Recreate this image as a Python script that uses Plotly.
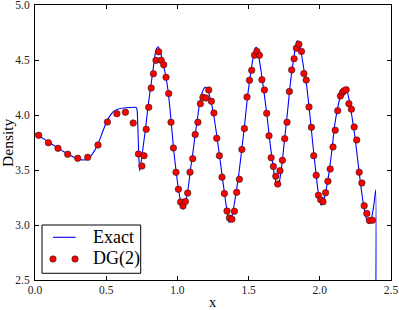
import plotly.graph_objects as go

# ---- Exact solution ----
exact_x = [0.0, 0.05, 0.1, 0.15, 0.2, 0.25, 0.29, 0.33, 0.37, 0.40, 0.44, 0.47, 0.50, 0.525, 0.55, 0.58,
           0.62, 0.66, 0.70, 0.713, 0.718, 0.722, 0.728, 0.735,
           0.7634, 0.7753, 0.7935, 0.8125, 0.8287, 0.8427, 0.8546, 0.8666,
           0.8757, 0.8897, 0.9038, 0.9178, 0.9319, 0.9459, 0.96, 0.974, 0.9881, 1.0021, 1.0162, 1.0302,
           1.0407, 1.0513, 1.0653, 1.0794, 1.0934, 1.1075, 1.1215, 1.1356, 1.1531, 1.1707, 1.1847, 1.1952,
           1.2093, 1.2339, 1.2549, 1.276, 1.2971, 1.3181, 1.3392, 1.3533, 1.3624, 1.3743, 1.3919, 1.4095,
           1.4305, 1.4516, 1.4726, 1.4937, 1.5148, 1.5323, 1.5464, 1.5569, 1.571, 1.5885, 1.6061, 1.6271,
           1.6482, 1.6658, 1.6833, 1.7023, 1.7184, 1.736, 1.7535, 1.7746, 1.7957, 1.8167, 1.8308, 1.8399,
           1.8518, 1.8659, 1.8869, 1.908, 1.9291, 1.9502, 1.9713, 1.9888, 2.0084, 2.0239, 2.0414, 2.0625,
           2.0836, 2.1046, 2.1257, 2.1468, 2.1609, 2.1749, 2.189, 2.2065, 2.224, 2.2451, 2.2662, 2.2873,
           2.3083, 2.3259, 2.3434, 2.3575, 2.3716, 2.3821, 2.3926, 2.3927]
exact_y = [3.835, 3.793, 3.75, 3.708, 3.668, 3.633, 3.606, 3.592, 3.598, 3.64, 3.73, 3.83, 3.93, 3.99, 4.03, 4.052,
           4.064, 4.068, 4.07, 4.065, 4.03, 3.90, 3.66, 3.49,
           3.75, 3.864, 4.075, 4.257, 4.409, 4.545, 4.606, 4.621,
           4.591, 4.527, 4.445, 4.355, 4.245, 4.082, 3.882, 3.682, 3.518, 3.373, 3.255, 3.164,
           3.145, 3.173, 3.255, 3.373, 3.518, 3.645, 3.79, 3.918, 4.082, 4.191, 4.236, 4.252,
           4.241, 4.136, 4.0, 3.818, 3.618, 3.409, 3.209, 3.082, 3.025, 3.036, 3.136, 3.273,
           3.455, 3.682, 3.918, 4.182, 4.382, 4.527, 4.609, 4.614, 4.536, 4.391, 4.227, 4.018,
           3.773, 3.591, 3.436, 3.355, 3.409, 3.573, 3.791, 4.045, 4.318, 4.518, 4.627, 4.673,
           4.664, 4.591, 4.427, 4.264, 4.018, 3.745, 3.491, 3.30, 3.182, 3.20, 3.30, 3.455,
           3.664, 3.909, 4.064, 4.182, 4.227, 4.239, 4.227, 4.136, 4.0, 3.818, 3.591, 3.364,
           3.173, 3.064, 3.015, 3.036, 3.118, 3.209, 3.321, 2.0]

# ---- DG(2) numerical solution ----
dg_x = [0.026, 0.094, 0.1615, 0.2296, 0.2999, 0.370, 0.4424, 0.5084, 0.5751, 0.6348, 0.6896, 0.7261,
        0.7507, 0.7654, 0.7809, 0.7985, 0.816, 0.8315, 0.8497, 0.8687, 0.8862, 0.9038, 0.920, 0.9389,
        0.9551, 0.9719, 0.9902, 1.007, 1.0232, 1.0393, 1.0562, 1.0723, 1.0885, 1.1075, 1.125, 1.144,
        1.1615, 1.1791, 1.2001, 1.2198, 1.2388, 1.2563, 1.276, 1.2949, 1.3132, 1.330, 1.3483, 1.3652,
        1.3827, 1.4003, 1.4164, 1.4354, 1.453, 1.4705, 1.4888, 1.5063, 1.5218, 1.5414, 1.5583, 1.5758,
        1.5934, 1.611, 1.6271, 1.6433, 1.658, 1.6742, 1.691, 1.7044, 1.7205, 1.7374, 1.7535, 1.7697,
        1.7865, 1.8027, 1.8195, 1.8357, 1.8532, 1.8715, 1.8883, 1.9045, 1.9242, 1.941, 1.9572, 1.9747,
        1.9902, 2.0063, 2.0225, 2.0407, 2.0569, 2.0730, 2.0927, 2.1081, 2.1257, 2.1447, 2.1594, 2.170,
        2.1854, 2.2044, 2.2219, 2.2416, 2.2591, 2.2767, 2.2956, 2.3118, 2.3301, 2.3483, 2.3701]
dg_y = [3.815, 3.748, 3.697, 3.643, 3.606, 3.615, 3.727, 3.936, 4.012, 4.025, 3.927, 3.645,
        3.536, 3.630, 3.870, 4.070, 4.245, 4.375, 4.497, 4.575, 4.497, 4.456, 4.343, 4.195,
        3.934, 3.700, 3.479, 3.325, 3.209, 3.173, 3.214, 3.291, 3.480, 3.603, 3.823, 3.934,
        4.103, 4.161, 4.155, 4.227, 4.125, 4.018, 3.788, 3.630, 3.435, 3.286, 3.127, 3.064,
        3.053, 3.125, 3.297, 3.415, 3.686, 3.877, 4.163, 4.316, 4.406, 4.544, 4.578, 4.543,
        4.321, 4.227, 4.015, 3.811, 3.612, 3.532, 3.444, 3.372, 3.494, 3.588, 3.785, 3.934,
        4.214, 4.410, 4.511, 4.606, 4.643, 4.578, 4.377, 4.318, 4.073, 3.888, 3.630, 3.452,
        3.270, 3.230, 3.212, 3.294, 3.397, 3.509, 3.709, 3.862, 4.039, 4.173, 4.205, 4.220,
        4.230, 4.103, 4.053, 3.891, 3.773, 3.480, 3.382, 3.175, 3.105, 3.041, 3.044]

x_ticks = [0.0, 0.5, 1.0, 1.5, 2.0, 2.5]
y_ticks = [2.5, 3.0, 3.5, 4.0, 4.5, 5.0]
legend_labels = ["Exact", "DG(2)"]
x_title = "x"
y_title = "Density"

FONT = "Liberation Serif, DejaVu Serif, serif"

fig = go.Figure()
fig.add_trace(go.Scatter(x=exact_x, y=exact_y, mode="lines", name=legend_labels[0],
                         line=dict(color="#0000ff", width=1.1, shape="spline", smoothing=0.5),
                         showlegend=False))
fig.add_trace(go.Scatter(x=dg_x, y=dg_y, mode="markers", name=legend_labels[1],
                         marker=dict(color="#ff0000", size=6.5, line=dict(color="#222222", width=0.6)),
                         showlegend=False))

axis_common = dict(showgrid=False, zeroline=False, showline=True, linecolor="black", linewidth=1,
                   mirror="ticks", ticks="inside", ticklen=4, tickwidth=1, tickcolor="black",
                   tickfont=dict(family=FONT, size=11.5, color="#222222"), tickformat=".1f",
                   ticklabeloverflow="allow", automargin=False)

fig.update_layout(
    width=399, height=310,
    margin=dict(l=35, r=8, t=5, b=30, autoexpand=False),
    paper_bgcolor="white", plot_bgcolor="white",
    font=dict(family=FONT, color="black"),
    xaxis=dict(range=[0, 2.5], tickvals=x_ticks, ticklabelstandoff=-1, **axis_common),
    yaxis=dict(range=[2.5, 5.0], tickvals=y_ticks, ticklabelstandoff=2, **axis_common),
)

# axis titles
fig.add_annotation(text=x_title, xref="paper", yref="paper", x=0.5, y=-0.08, xanchor="center",
                   yanchor="middle", showarrow=False, borderpad=0,
                   font=dict(family=FONT, size=14.5, color="black"))
fig.add_annotation(text=y_title, xref="paper", yref="paper", x=-0.0775, y=0.5, xanchor="center",
                   yanchor="middle", textangle=-90, showarrow=False,
                   font=dict(family=FONT, size=15.5, color="black"))

# custom legend (matplotlib style: two markers for the point series)
fig.add_shape(type="rect", xref="paper", yref="paper", x0=0.0197, x1=0.2969, y0=0.0244, y1=0.2,
              line=dict(color="black", width=1), fillcolor="white", layer="above")
fig.add_shape(type="line", xref="paper", yref="paper", x0=0.0506, x1=0.1143, y0=0.1553, y1=0.1553,
              line=dict(color="#0000ff", width=1.1), layer="above")
for xa in (0.0506, 0.1124):
    fig.add_shape(type="circle", xref="paper", yref="paper", xsizemode="pixel", ysizemode="pixel",
                  xanchor=xa, yanchor=0.0764, x0=-3.2, x1=3.2, y0=-3.2, y1=3.2,
                  fillcolor="#ff0000", line=dict(color="#222222", width=0.6), layer="above")
for lab, ya in zip(legend_labels, (0.1553, 0.0764)):
    fig.add_annotation(text=lab, xref="paper", yref="paper", x=0.1584, y=ya, xanchor="left",
                       yanchor="middle", showarrow=False, font=dict(family=FONT, size=18, color="black"))

fig.write_html("out.html", config={"displayModeBar": False},
               post_script="document.body.style.margin='0px';")
